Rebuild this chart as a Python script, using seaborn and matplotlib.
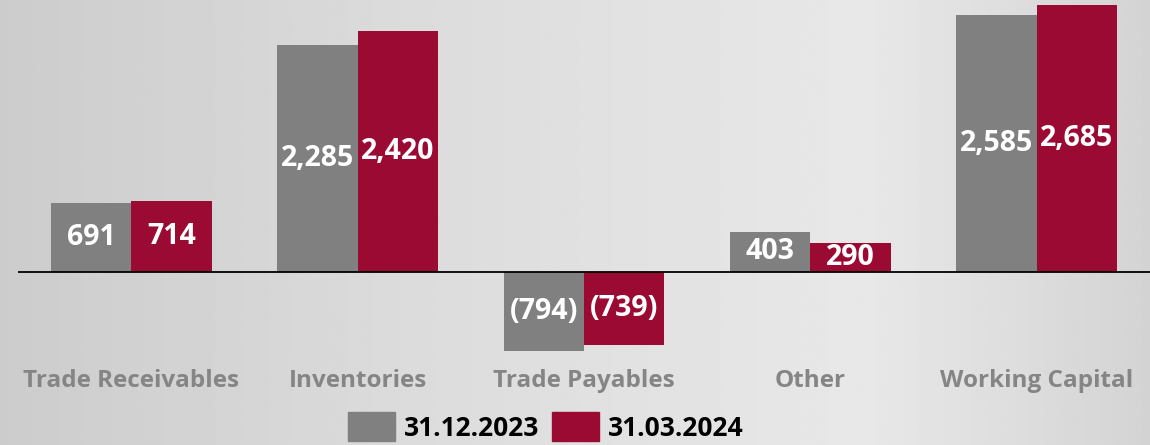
import numpy as np
import pandas as pd
import matplotlib
matplotlib.use("Agg")
import matplotlib.pyplot as plt
import seaborn as sns

# chart data
categories = ["Trade Receivables", "Inventories", "Trade Payables", "Other", "Working Capital"]
periods = ["31.12.2023", "31.03.2024"]
values_2023 = [691, 2285, -794, 403, 2585]
values_2024 = [714, 2420, -739, 290, 2685]

colors = {"31.12.2023": "#808080", "31.03.2024": "#9b0a33"}

df = pd.DataFrame({
    "category": categories * 2,
    "period": [periods[0]] * 5 + [periods[1]] * 5,
    "value": values_2023 + values_2024,
})

sns.set_theme(style="white")
plt.rcParams["font.family"] = ["Open Sans", "DejaVu Sans"]

fig = plt.figure(figsize=(11.5, 4.45), dpi=100)

# brushed grey background
bg = fig.add_axes([0, 0, 1, 1])
xs = np.linspace(0, 1, 600)
shade = np.interp(xs, [0, 0.35, 0.75, 1.0], [0.80, 0.86, 0.91, 0.83])
img = np.tile(shade, (200, 1))
bg.imshow(img, cmap="gray", vmin=0, vmax=1, aspect="auto", extent=[0, 1, 0, 1])
bg.set_axis_off()

ax = fig.add_axes([18 / 1150, 90 / 445, 1132 / 1150, 355 / 445])
ax.set_facecolor("none")
sns.barplot(data=df, x="category", y="value", hue="period", palette=colors,
            width=0.71, gap=0, order=categories, hue_order=periods,
            ax=ax, legend=False, saturation=1, errorbar=None, linewidth=0)

ax.set_xlim(-0.5, 4.5)
ax.set_ylim(-835, 2736)
ax.axhline(0, color="black", lw=1.3, zorder=1)

for container in ax.containers:
    labels = [f"({abs(v):,.0f})" if v < 0 else f"{v:,.0f}" for v in container.datavalues]
    ax.bar_label(container, labels=labels, label_type="center", color="white",
                 fontsize=20.5, fontweight="bold")

ax.set_xlabel("")
ax.set_ylabel("")
ax.set_yticks([])
ax.tick_params(axis="x", length=0, pad=10)
for lbl in ax.get_xticklabels():
    lbl.set_fontsize(17.5)
    lbl.set_fontweight("bold")
    lbl.set_color("#858585")
for s in ax.spines.values():
    s.set_visible(False)

handles = [plt.Rectangle((0, 0), 1, 1, color=colors[p]) for p in periods]
leg = fig.legend(handles, periods, loc="center", bbox_to_anchor=(546 / 1150, 18 / 445),
                 ncol=2, frameon=False, handlelength=1.75, handleheight=1.3,
                 columnspacing=0.5, handletextpad=0.35,
                 prop={"weight": "bold", "size": 19})
for t in leg.get_texts():
    t.set_color("black")

fig.savefig("out.png", dpi=100)
